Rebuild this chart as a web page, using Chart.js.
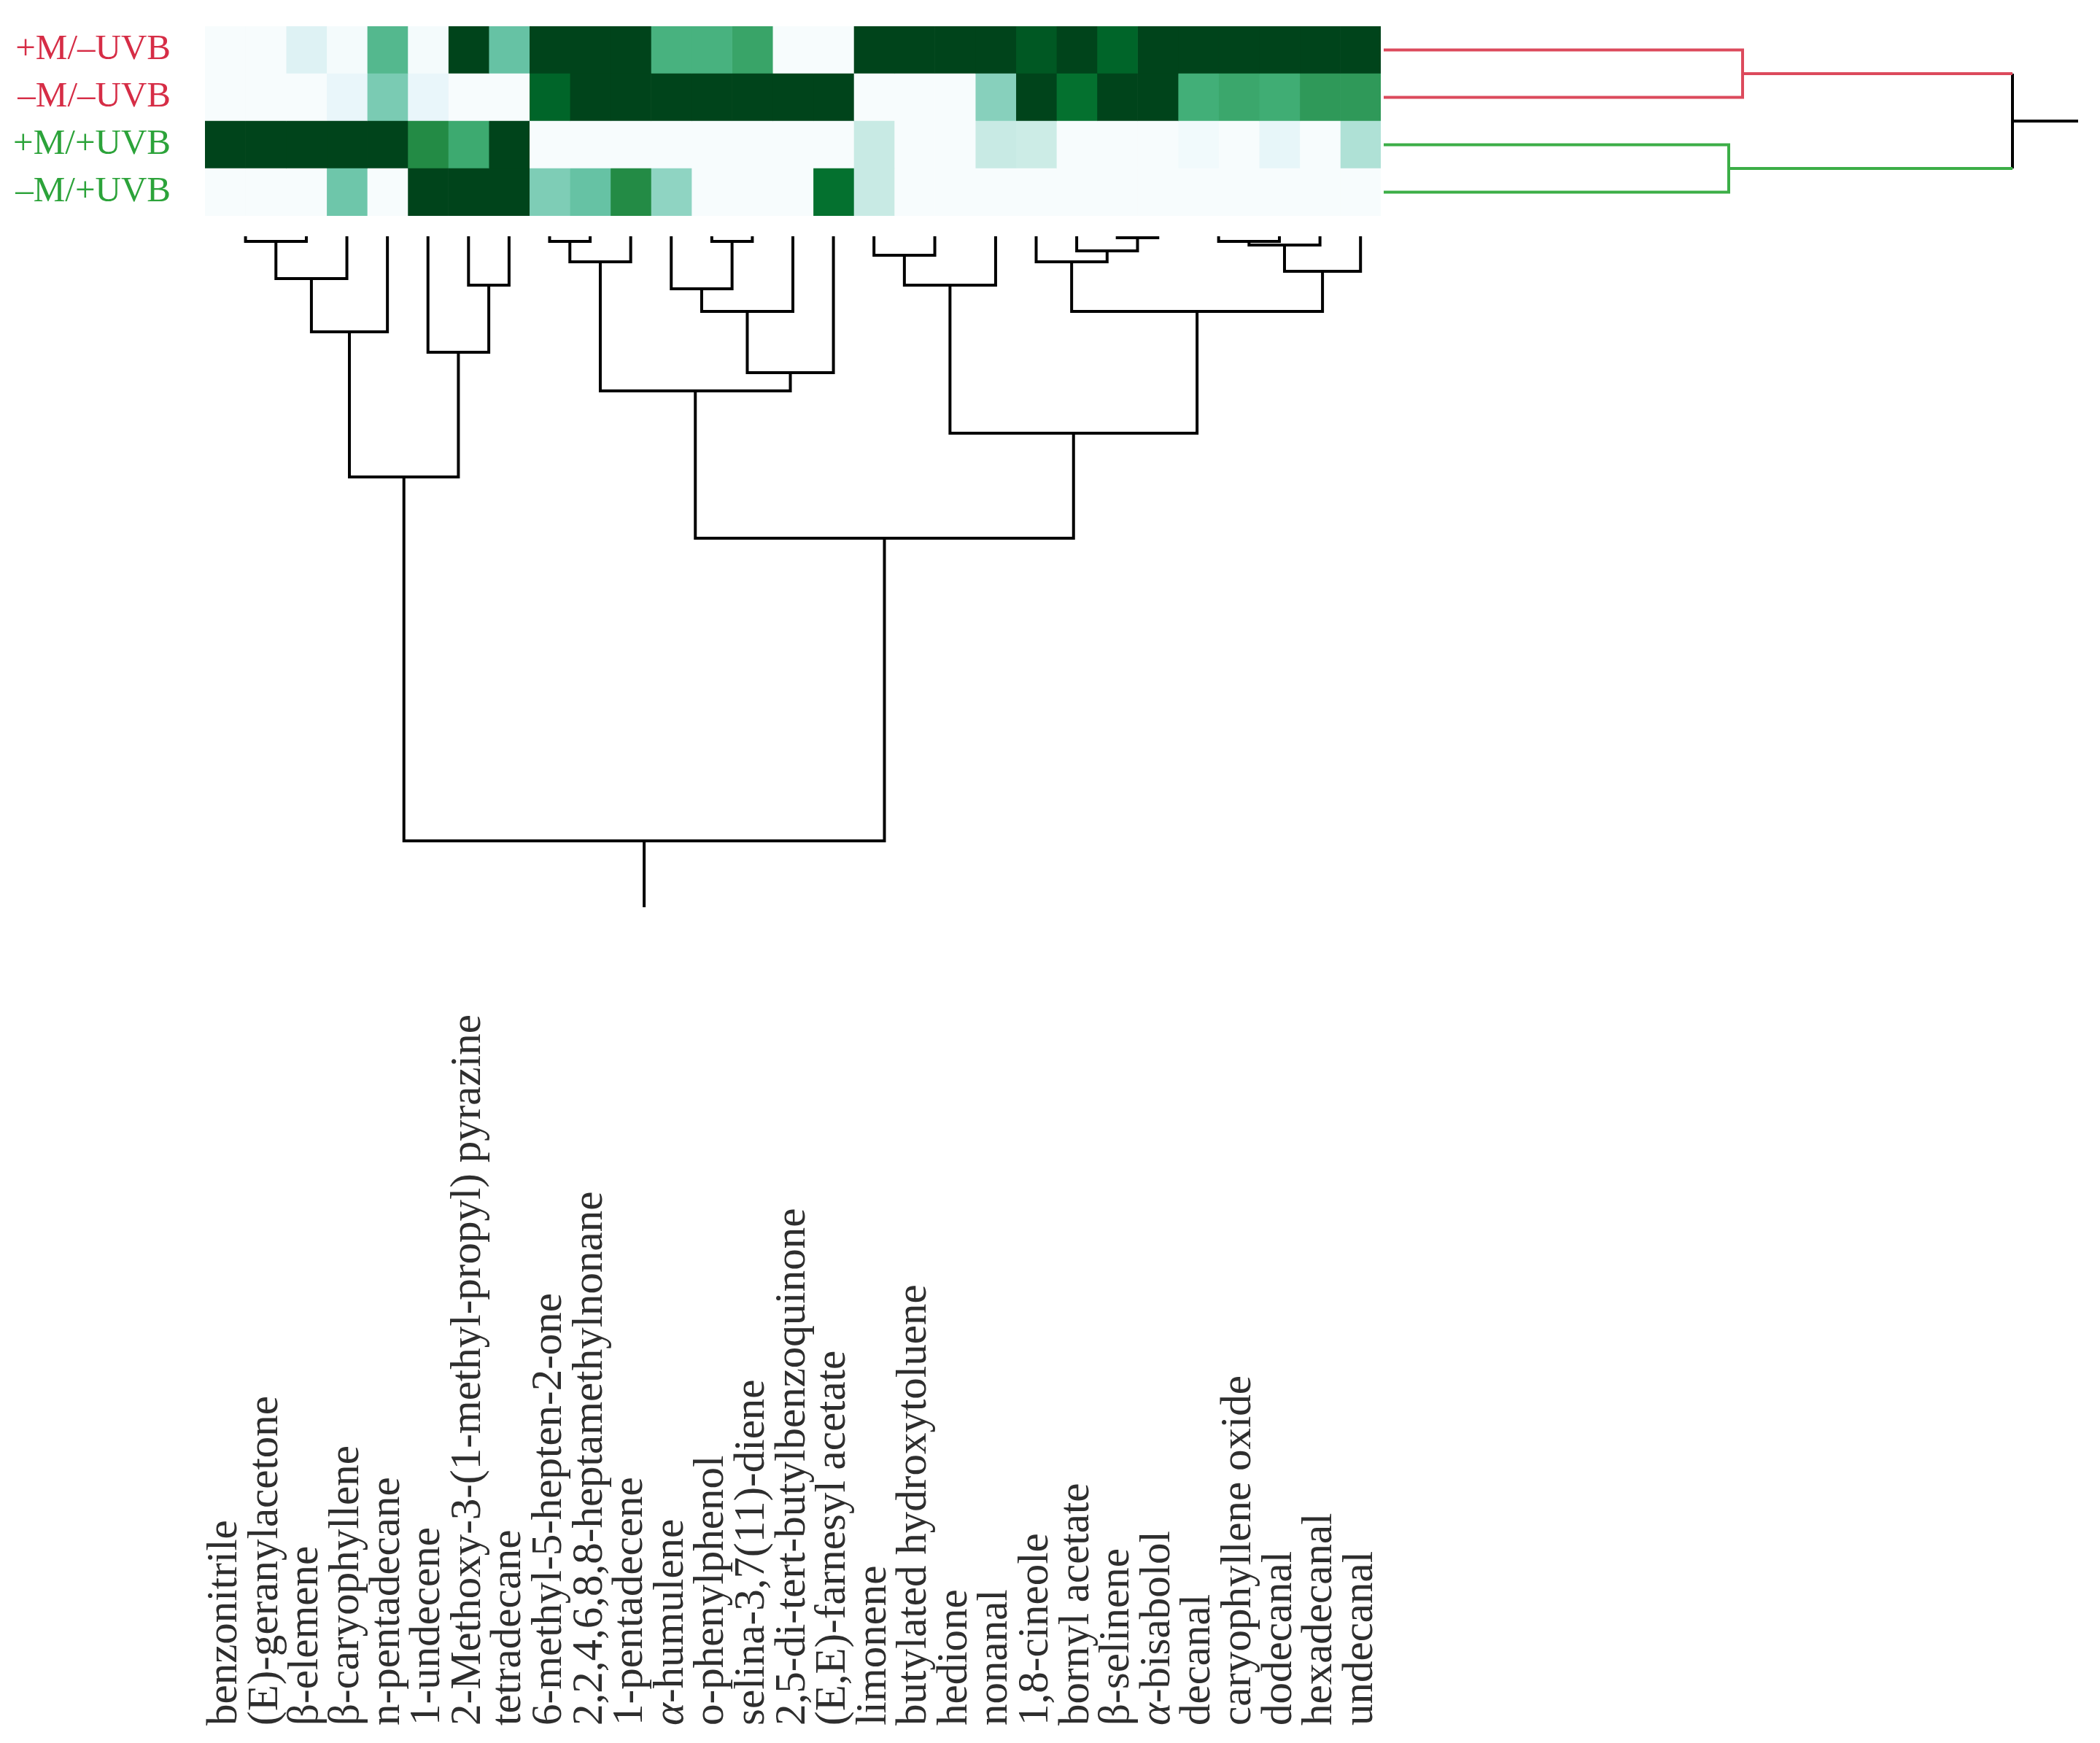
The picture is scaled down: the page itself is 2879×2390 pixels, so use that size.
<!DOCTYPE html>
<html>
<head>
<meta charset="utf-8">
<script src="https://cdn.jsdelivr.net/npm/chart.js@4.4.1/dist/chart.umd.min.js"></script>
<style>
  html, body { margin: 0; padding: 0; background: #fff; }
  #wrap { position: relative; width: 2879px; height: 2390px; overflow: hidden; background: #fff; }
  canvas { position: absolute; }
</style>
</head>
<body>
<div id="wrap">
  <canvas id="heat" width="1900" height="333" style="left:0;top:0"></canvas>
  <canvas id="colTree" width="1900" height="2090" style="left:0;top:300px"></canvas>
  <canvas id="rowTree" width="986" height="333" style="left:1893px;top:0"></canvas>
</div>
<script>
// treatments (heatmap rows, top to bottom)
const rowLabels = ["+M/–UVB", "–M/–UVB", "+M/+UVB", "–M/+UVB"];
const rowColors = ["#d62d46", "#d62d46", "#2ca33a", "#2ca33a"];

// compounds (heatmap columns, left to right)
const compounds = [
  "benzonitrile", "(E)-geranylacetone", "β-elemene", "β-caryophyllene", "n-pentadecane",
  "1-undecene", "2-Methoxy-3-(1-methyl-propyl) pyrazine", "tetradecane",
  "6-methyl-5-hepten-2-one", "2,2,4,6,8,8-heptamethylnonane", "1-pentadecene",
  "α-humulene", "o-phenylphenol", "selina-3,7(11)-diene", "2,5-di-tert-butylbenzoquinone",
  "(E,E)-farnesyl acetate", "limonene", "butylated hydroxytoluene", "hedione", "nonanal",
  "1,8-cineole", "bornyl acetate", "β-selinene", "α-bisabolol", "decanal",
  "caryophyllene oxide", "dodecanal", "hexadecanal", "undecanal"
];

// scaled abundance 0..1, one array per treatment
const plusM_minusUVB  = [0, 0, 0.16, 0.02, 0.56, 0.02, 1, 0.5, 1, 1, 1, 0.6, 0.6, 0.66, 0, 0, 1, 1, 1, 1, 0.94, 1, 0.9, 1, 1, 1, 1, 1, 1];
const minusM_minusUVB = [0, 0, 0, 0.1, 0.45, 0.1, 0, 0, 0.9, 1, 1, 1, 1, 1, 1, 1, 0, 0, 0, 0.42, 1, 0.86, 1, 1, 0.62, 0.65, 0.63, 0.7, 0.7];
const plusM_plusUVB   = [1, 1, 1, 1, 1, 0.75, 0.64, 1, 0, 0, 0, 0, 0, 0, 0, 0, 0.26, 0, 0, 0.26, 0.25, 0, 0, 0, 0.04, 0, 0.11, 0, 0.32];
const minusM_plusUVB  = [0, 0, 0, 0.48, 0, 1, 1, 1, 0.44, 0.5, 0.75, 0.4, 0, 0, 0, 0.86, 0.26, 0, 0, 0, 0, 0, 0, 0, 0, 0, 0, 0, 0];
const heatRows = [plusM_minusUVB, minusM_minusUVB, plusM_plusUVB, minusM_plusUVB];

// column dendrogram linkage [childA, childB, height]; leaves 0..28, merged nodes from 29
const colLinkage = [
  [0, 1, 12], [29, 2, 31], [30, 3, 82], [31, 4, 155], [6, 7, 91], [5, 33, 183], [32, 34, 354],
  [8, 9, 31], [36, 10, 59], [12, 13, 31], [11, 38, 96], [39, 14, 127], [40, 15, 211], [37, 41, 236],
  [17, 18, 12], [16, 43, 50], [44, 19, 91], [22, 23, 26], [21, 46, 44], [20, 47, 59],
  [24, 25, 12], [49, 26, 31], [50, 27, 36], [51, 28, 72], [48, 52, 127], [45, 53, 294],
  [42, 54, 438], [35, 55, 853]
];
const colTreeTop = 24, colTreeStemEnd = 944;

// row dendrogram linkage; leaves 0..3
const rowLinkage = [[0, 1, 492], [2, 3, 473], [4, 5, 862]];
const rowTreeStemEnd = 952;

const buGn = ["#f7fcfd", "#e5f5f9", "#ccece6", "#99d8c9", "#66c2a4", "#41ae76", "#238b45", "#006d2c", "#00441b"];
function hex(c) { return [1, 3, 5].map(i => parseInt(c.substr(i, 2), 16)); }
function cellColor(v) {
  const t = Math.max(0, Math.min(1, v)) * (buGn.length - 1);
  const i = Math.min(Math.floor(t), buGn.length - 2);
  const f = t - i;
  const a = hex(buGn[i]), b = hex(buGn[i + 1]);
  const m = a.map((x, k) => Math.round(x + (b[k] - x) * f));
  return `rgb(${m[0]},${m[1]},${m[2]})`;
}

const serif = '"Liberation Serif", "Times New Roman", serif';

// ---- heatmap: one stacked bar segment per compound ----
new Chart(document.getElementById("heat"), {
  type: "bar",
  data: {
    labels: rowLabels,
    datasets: compounds.map((name, j) => ({
      label: name,
      data: rowLabels.map(() => 1),
      backgroundColor: heatRows.map(r => cellColor(r[j])),
      borderWidth: 0,
      barPercentage: 1,
      categoryPercentage: 1,
      stack: "s"
    }))
  },
  options: {
    indexAxis: "y",
    responsive: false,
    animation: false,
    devicePixelRatio: 1,
    layout: { padding: { left: 0, right: 7, top: 36, bottom: 37 } },
    plugins: { legend: { display: false }, tooltip: { enabled: false } },
    scales: {
      x: { type: "linear", stacked: true, min: 0, max: compounds.length, display: false },
      y: {
        stacked: true,
        grid: { display: false, drawTicks: false },
        border: { display: false },
        ticks: {
          padding: 47,
          color: (c) => rowColors[c.index],
          font: { family: serif, size: 49 }
        },
        afterFit: (s) => { s.width = 281; s.paddingTop = 0; s.paddingBottom = 0; }
      }
    }
  }
});

// ---- column dendrogram + rotated compound names ----
function treeLines(linkage, nLeaves) {
  const pos = [], hgt = [];
  for (let i = 0; i < nLeaves; i++) { pos.push(i + 0.5); hgt.push(0); }
  const pts = [];
  linkage.forEach(([a, b, h]) => {
    pts.push({ x: pos[a], y: hgt[a] }, { x: pos[a], y: h }, { x: pos[b], y: h }, { x: pos[b], y: hgt[b] }, { x: NaN, y: NaN });
    pos.push((pos[a] + pos[b]) / 2);
    hgt.push(h);
  });
  return { pts, pos, hgt };
}

const colTree = treeLines(colLinkage, compounds.length);
const rootIdx = colTree.pos.length - 1;
colTree.pts.push({ x: colTree.pos[rootIdx], y: colTree.hgt[rootIdx] }, { x: colTree.pos[rootIdx], y: colTreeStemEnd });

const leafLabels = {
  id: "leafLabels",
  afterDraw(chart) {
    const { ctx } = chart;
    const x = chart.scales.x;
    const base = 2066;
    ctx.save();
    ctx.fillStyle = "#2e2e2e";
    ctx.textBaseline = "middle";
    compounds.forEach((name, i) => {
      ctx.save();
      ctx.translate(x.getPixelForValue(i + 0.5), base);
      ctx.rotate(-Math.PI / 2);
      let off = 0, rest = name;
      if (name.startsWith("α")) {
        ctx.font = `italic 59px ${serif}`;
        ctx.fillText("α", 0, 0);
        off = ctx.measureText("α").width;
        rest = name.slice(1);
      }
      ctx.font = `59px ${serif}`;
      ctx.fillText(rest, off, 0);
      ctx.restore();
    });
    ctx.restore();
  }
};

new Chart(document.getElementById("colTree"), {
  type: "scatter",
  data: {
    datasets: [{
      data: colTree.pts,
      showLine: true,
      spanGaps: false,
      borderColor: "#000",
      borderWidth: 4,
      pointRadius: 0,
      borderCapStyle: "butt",
      borderJoinStyle: "miter"
    }]
  },
  options: {
    responsive: false,
    animation: false,
    devicePixelRatio: 1,
    layout: { padding: { left: 281, right: 7, top: colTreeTop, bottom: 2090 - colTreeStemEnd } },
    plugins: { legend: { display: false }, tooltip: { enabled: false } },
    scales: {
      x: { type: "linear", min: 0, max: compounds.length, display: false },
      y: { type: "linear", min: colTreeTop, max: colTreeStemEnd, reverse: true, display: false }
    }
  },
  plugins: [leafLabels]
});

// ---- row dendrogram (right side) ----
const rowTree = treeLines(rowLinkage, rowLabels.length);
const flip = (p) => ({ x: p.y, y: p.x });
const seg = rowTree.pts.map(flip);
// link 0 -> red cluster, link 1 -> green cluster, link 2 -> root (legs coloured, connector black)
const redPts = seg.slice(0, 5).concat([seg[10], seg[11], { x: NaN, y: NaN }]);
const greenPts = seg.slice(5, 10).concat([seg[13], seg[12], { x: NaN, y: NaN }]);
const rp = rowTree.pos[6], rh = rowTree.hgt[6];
const blackPts = [seg[11], seg[12], { x: NaN, y: NaN }, { x: rh, y: rp }, { x: rowTreeStemEnd, y: rp }];

const lineDs = (pts, color) => ({
  data: pts, showLine: true, spanGaps: false, borderColor: color, borderWidth: 4,
  pointRadius: 0, borderCapStyle: "butt", borderJoinStyle: "miter"
});

new Chart(document.getElementById("rowTree"), {
  type: "scatter",
  data: { datasets: [lineDs(redPts, "#dc4a5c"), lineDs(greenPts, "#3cae47"), lineDs(blackPts, "#000")] },
  options: {
    responsive: false,
    animation: false,
    devicePixelRatio: 1,
    layout: { padding: { left: 4, right: 30, top: 36, bottom: 37 } },
    plugins: { legend: { display: false }, tooltip: { enabled: false } },
    scales: {
      x: { type: "linear", min: 0, max: rowTreeStemEnd, display: false },
      y: { type: "linear", min: 0, max: rowLabels.length, reverse: true, display: false }
    }
  }
});
</script>
</body>
</html>
